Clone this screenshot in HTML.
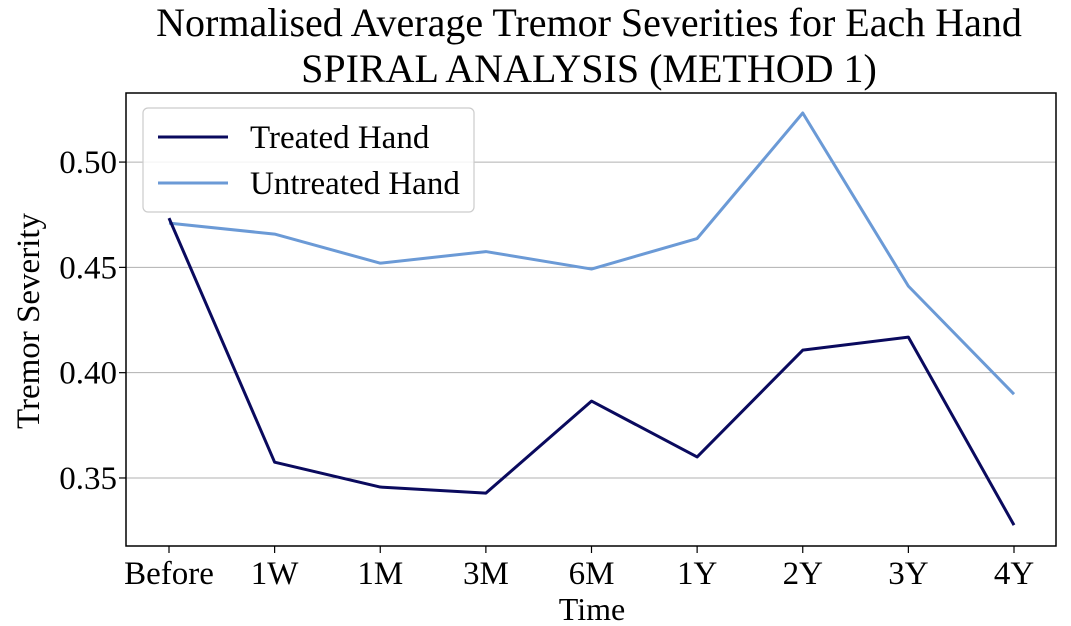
<!DOCTYPE html>
<html><head><meta charset="utf-8"><style>
html,body{margin:0;padding:0;background:#fff}
svg{display:block;font-family:"Liberation Serif",serif}
</style></head><body>
<svg id="chart" width="1071" height="626"></svg>
<script>
const categories=["Before","1W","1M","3M","6M","1Y","2Y","3Y","4Y"];
const treatedValues=[0.4734,0.3575,0.3457,0.3428,0.3865,0.3600,0.4107,0.4169,0.3276];
const untreatedValues=[0.4710,0.4658,0.4520,0.4575,0.4492,0.4637,0.5233,0.4411,0.3898];
const yTicks=[0.35,0.40,0.45,0.50];
const yTickLabels=["0.35","0.40","0.45","0.50"];

const L=126,R=1056,T=93,B=546,yMin=0.3177,yMax=0.5328;
const x0=169,x1=1014;
const NS="http://www.w3.org/2000/svg";
const svg=document.getElementById('chart');
function xs(i){return x0+(x1-x0)*i/(categories.length-1);}
function ys(v){return B-(v-yMin)/(yMax-yMin)*(B-T);}
function mk(tag,attrs,parent){const e=document.createElementNS(NS,tag);for(const k in attrs)e.setAttribute(k,attrs[k]);(parent||svg).appendChild(e);return e;}

const title1=mk('text',{x:589,y:36,'text-anchor':'middle','font-size':40});


title1.textContent="Normalised Average Tremor Severities for Each Hand";
const title2=mk('text',{x:589,y:82,'text-anchor':'middle','font-size':40});


title2.textContent="SPIRAL ANALYSIS (METHOD 1)";

yTicks.forEach((v,i)=>{
  const g=mk('line',{x1:L,x2:R,y1:ys(v),y2:ys(v),stroke:'#b0b0b0','stroke-width':1});
  
  
  mk('line',{x1:L-7,x2:L,y1:ys(v),y2:ys(v),stroke:'#000','stroke-width':1.2});
  const t=mk('text',{x:L-9,y:ys(v)+11,'text-anchor':'end','font-size':33});
  
  
  t.textContent=yTickLabels[i];
});
categories.forEach((c,i)=>{
  mk('line',{x1:xs(i),x2:xs(i),y1:B,y2:B+7,stroke:'#000','stroke-width':1.2});
  const t=mk('text',{x:xs(i),y:B+38,'text-anchor':'middle','font-size':33});
  
  
  t.textContent=c;
});
const frame=mk('rect',{x:L,y:T,width:R-L,height:B-T,fill:'none',stroke:'#000','stroke-width':1.5});



function series(vals,color,name){
  const p=mk('polyline',{points:vals.map((v,i)=>xs(i)+','+ys(v)).join(' '),fill:'none',stroke:color,'stroke-width':3,'stroke-linejoin':'round'});
  
  
}
series(untreatedValues,'#6b9ad6','untreated-hand-line');
series(treatedValues,'#0a0a5e','treated-hand-line');

const xt=mk('text',{x:592,y:620,'text-anchor':'middle','font-size':32});


xt.textContent="Time";
const yt=mk('text',{x:0,y:0,'text-anchor':'middle','font-size':33,transform:'translate(39,321) rotate(-90)'});


yt.textContent="Tremor Severity";

const lg=mk('rect',{x:143,y:108,width:331,height:104,rx:5,fill:'#fff','fill-opacity':0.85,stroke:'#ccc','stroke-width':1.2});


[["Treated Hand",'#0a0a5e',137],["Untreated Hand",'#6b9ad6',183]].forEach(([n,c,y],i)=>{
  mk('line',{x1:158,x2:228,y1:y,y2:y,stroke:c,'stroke-width':3});
  const t=mk('text',{x:250,y:y+11,'font-size':33});
  
  
  t.textContent=n;
});
</script>
</body></html>
